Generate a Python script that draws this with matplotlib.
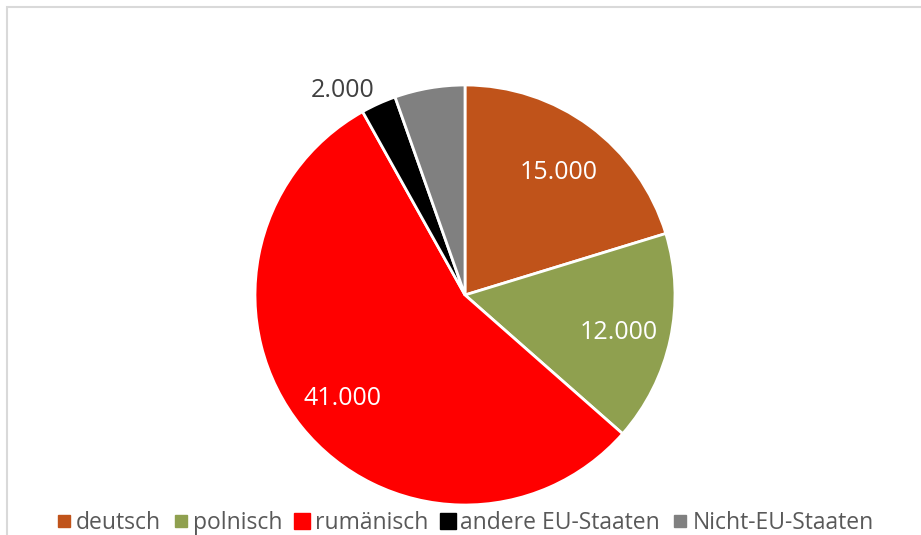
import numpy as np
import matplotlib.pyplot as plt
from matplotlib.lines import Line2D
from matplotlib.patches import Rectangle

plt.rcParams['font.family'] = ['Open Sans', 'DejaVu Sans']

kategorien = ["deutsch", "polnisch", "rumänisch", "andere EU-Staaten", "Nicht-EU-Staaten"]
werte = [15000, 12000, 41000, 2000, 4000]
beschriftungen = ["15.000", "12.000", "41.000", "2.000", None]
farben = ["#C0531A", "#8FA04F", "#FF0000", "#000000", "#808080"]

fig = plt.figure(figsize=(9.21, 5.35), dpi=100)

# heller Rahmen wie im Excel-Diagramm (rechts/unten abgeschnitten)
fig.patches.append(Rectangle((6.5 / 921, -0.1), 1.2, 1 - 6.5 / 535 + 0.1,
                             transform=fig.transFigure, fill=False,
                             edgecolor="#D9D9D9", linewidth=1.5))

ax = fig.add_axes([255 / 921, 30 / 535, 420 / 921, 420 / 535])
wedges, _ = ax.pie(werte, colors=farben, startangle=90, counterclock=False,
                   radius=1.0, wedgeprops=dict(edgecolor="white", linewidth=2))
ax.set_xlim(-1, 1)
ax.set_ylim(-1, 1)
ax.set_aspect("equal")

for w, txt in zip(wedges, beschriftungen):
    if txt is None:
        continue
    mitte = np.deg2rad((w.theta1 + w.theta2) / 2)
    if txt == "2.000":
        r, mitte, farbe = 1.15, mitte + np.deg2rad(6), "#404040"
    else:
        r, farbe = 0.75, "white"
    ax.text(r * np.cos(mitte), r * np.sin(mitte) - 0.02, txt, ha="center", va="center",
            fontsize=18, color=farbe, clip_on=False)

groessen = [8, 8, 12, 12, 8]
handles = [Line2D([], [], linestyle="none", marker="s", markersize=s,
                  markerfacecolor=c, markeredgecolor=c)
           for c, s in zip(farben, groessen)]
fig.legend(handles, kategorien, loc="center", bbox_to_anchor=(0.505, 0.022),
           ncol=5, frameon=False, fontsize=16.5, labelcolor="#595959",
           handlelength=0.6, handletextpad=0.25, columnspacing=0.55,
           borderaxespad=0, borderpad=0)

fig.savefig("out.png", dpi=100)
